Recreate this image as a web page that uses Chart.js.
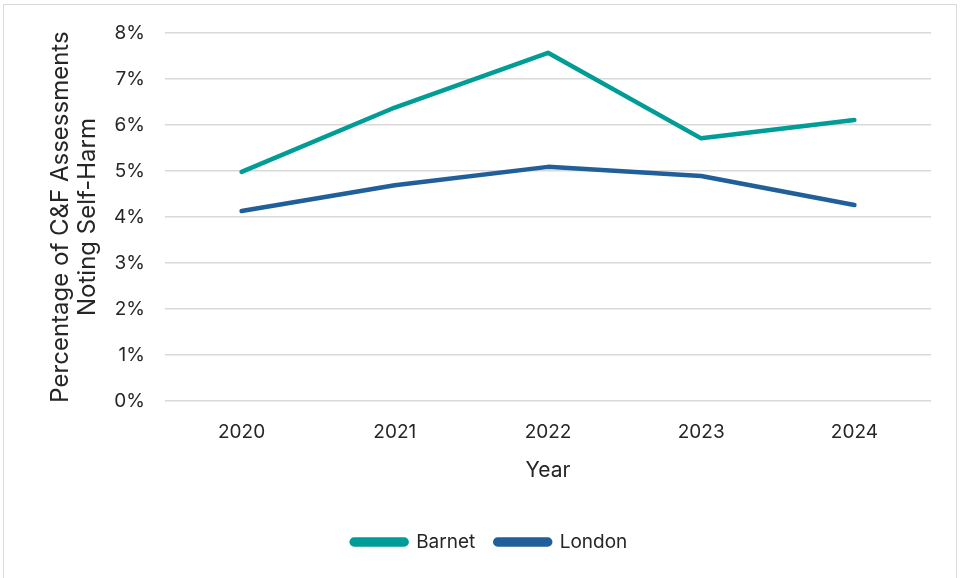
<!DOCTYPE html>
<html>
<head>
<meta charset="utf-8">
<script src="https://cdn.jsdelivr.net/npm/chart.js@4"></script>
<style>
  html, body { margin: 0; padding: 0; background: #fff; }
  #frame {
    position: absolute; left: 3px; top: 4px; width: 954px; height: 590px;
    border: 1px solid #d9d9d9; box-sizing: border-box;
  }
  #wrap { position: absolute; left: 0; top: 0; width: 960px; height: 578px; }
</style>
</head>
<body>
<div id="frame"></div>
<div id="wrap"><canvas id="selfHarmChart" width="960" height="578"></canvas></div>
<script>
const years = ["2020", "2021", "2022", "2023", "2024"];
const barnet = [4.98, 6.38, 7.57, 5.71, 6.11];
const london = [4.13, 4.69, 5.09, 4.89, 4.26];
const yTicks = [0, 1, 2, 3, 4, 5, 6, 7, 8];

const FONT = "Inter, 'Liberation Sans', sans-serif";
const TEXT = "#262626";

const ctx = document.getElementById("selfHarmChart").getContext("2d");

new Chart(ctx, {
  type: "line",
  data: {
    labels: years,
    datasets: [
      {
        label: "Barnet",
        data: barnet,
        borderColor: "#009C96",
        backgroundColor: "#009C96",
        borderWidth: 4.5,
        pointRadius: 0,
        borderCapStyle: "round",
        borderJoinStyle: "round",
        tension: 0
      },
      {
        label: "London",
        data: london,
        borderColor: "#215F9A",
        backgroundColor: "#215F9A",
        borderWidth: 4.5,
        pointRadius: 0,
        borderCapStyle: "round",
        borderJoinStyle: "round",
        tension: 0
      }
    ]
  },
  options: {
    responsive: false,
    animation: false,
    layout: { padding: { left: 48, right: 29, top: 33, bottom: 16.5 } },
    plugins: {
      tooltip: { enabled: false },
      legend: {
        position: "bottom",
        labels: {
          color: TEXT,
          font: { family: FONT, size: 19 },
          boxWidth: 55,
          boxHeight: 5,
          useBorderRadius: true,
          borderRadius: 2.5,
          padding: 20
        }
      }
    },
    scales: {
      x: {
        offset: true,
        grid: { display: false },
        border: { display: false },
        ticks: { color: TEXT, font: { family: FONT, size: 19 }, padding: 12 },
        title: {
          display: true,
          text: "Year",
          color: TEXT,
          font: { family: FONT, size: 21 },
          padding: { top: 6, bottom: 29.5 }
        },
        afterFit(scale) { scale.height = 111.5; }
      },
      y: {
        min: 0,
        max: 8,
        afterBuildTicks(scale) { scale.ticks = yTicks.map((v) => ({ value: v })); },
        grid: { color: "#d9d9d9", lineWidth: 1.5, drawTicks: false },
        border: { display: false },
        ticks: {
          color: TEXT,
          font: { family: FONT, size: 19 },
          padding: 20,
          callback(value) { return value + "%"; }
        },
        title: {
          display: true,
          text: ["Percentage of C&F Assessments", "Noting Self-Harm"],
          color: TEXT,
          font: { family: FONT, size: 24, lineHeight: 1.1 },
          padding: { top: 0, bottom: 10 }
        },
        afterFit(scale) { scale.width = 165 - 48; }
      }
    }
  }
});
</script>
</body>
</html>
